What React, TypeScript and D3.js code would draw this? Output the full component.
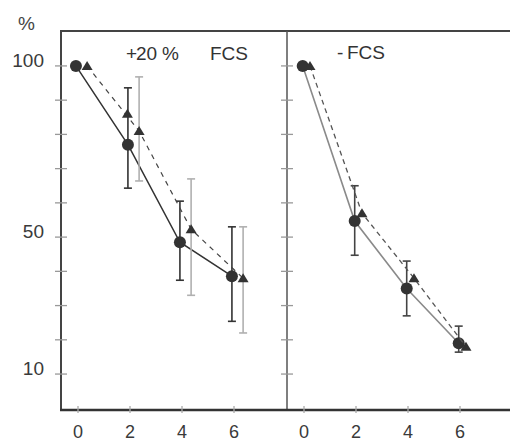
import React from 'react';
import * as d3 from 'd3';

// x categories and y ticks
const xCats = [0, 2, 4, 6];
const yTicks = [10, 20, 30, 40, 50, 60, 70, 80, 90, 100];
const yTickLabels = [10, 50, 100];

// left panel: +20 % FCS
const leftCircle = [100, 77, 48.5, 38.6];
const leftCircleLo = [NaN, 64.3, 37.4, 25.4];
const leftCircleHi = [NaN, 93.6, 60.5, 53];
const leftTriangle = [100, 81, 52.3, 38];
const leftTriangleLo = [NaN, 66.4, 33, 22];
const leftTriangleHi = [NaN, 96.8, 67, 53];
const leftTriangleB = [NaN, 86, NaN, NaN];

// right panel: -FCS
const rightCircle = [100, 54.7, 35, 19];
const rightCircleLo = [NaN, 44.7, 27, 16.4];
const rightCircleHi = [NaN, 65, 43, 24];
const rightTriangle = [100, 57, 38, 18];

const W = 510;
const H = 444;
const top = 31;
const bottom = 410;
const font = '"Liberation Sans", Arial, sans-serif';

const y = d3.scaleLinear().domain([-0.5, 110.2]).range([bottom, top]);

type Series = {
  values: number[];
  lo?: number[];
  hi?: number[];
  offset: number;
  marker: 'circle' | 'triangle';
  line?: { color: string; width: number; dash?: string };
  barColor?: string;
};

function Panel({ x0, title, series }: { x0: number; title: React.ReactNode; series: Series[] }) {
  const x = d3.scaleLinear().domain([-0.654, 7.96]).range([x0, x0 + 8.614 * 26]);
  return (
    <g>
      {/* y ticks across the panel's left axis */}
      {yTicks.map(t => (
        <line key={t} x1={x0 - 6} x2={x0 + 6} y1={y(t)} y2={y(t)} stroke="#999" strokeWidth={1.3} />
      ))}
      {/* x ticks */}
      {xCats.map(c => (
        <g key={c}>
          <line x1={x(c)} x2={x(c)} y1={bottom - 4} y2={bottom + 3} stroke="#aaa" strokeWidth={1.3} />
          <text x={x(c)} y={438} textAnchor="middle" fontFamily={font} fontSize={18} fill="#3a3a3a">{c}</text>
        </g>
      ))}
      {title}
      {series.map((s, si) => {
        const pts = s.values.map((v, i) => [x(xCats[i] + s.offset), y(v)] as [number, number]);
        const path = d3.line<number>()
          .defined(v => !isNaN(v))
          .x((_, i) => x(xCats[i] + s.offset))
          .y(v => y(v))(s.values);
        return (
          <g key={si}>
            {s.line && path && (
              <path d={path} fill="none" stroke={s.line.color} strokeWidth={s.line.width} strokeDasharray={s.line.dash} />
            )}
            {s.lo && s.hi && s.values.map((_, i) => {
              const lo = s.lo![i];
              const hi = s.hi![i];
              if (isNaN(lo) || isNaN(hi)) return null;
              const cx = x(xCats[i] + s.offset);
              return (
                <g key={i} stroke={s.barColor} strokeWidth={1.6}>
                  <line x1={cx} x2={cx} y1={y(lo)} y2={y(hi)} />
                  <line x1={cx - 4} x2={cx + 4} y1={y(lo)} y2={y(lo)} />
                  <line x1={cx - 4} x2={cx + 4} y1={y(hi)} y2={y(hi)} />
                </g>
              );
            })}
            {pts.map(([px, py], i) => {
              if (isNaN(py)) return null;
              return s.marker === 'circle'
                ? <circle key={i} cx={px} cy={py} r={6} fill="#333" />
                : <path key={i} d={`M${px},${py - 5}L${px + 5.5},${py + 4}L${px - 5.5},${py + 4}Z`} fill="#333" />;
            })}
          </g>
        );
      })}
    </g>
  );
}

export default function App() {
  const leftSeries: Series[] = [
    { values: leftCircle, lo: leftCircleLo, hi: leftCircleHi, offset: -0.08, marker: 'circle', line: { color: '#333', width: 1.5 }, barColor: '#333' },
    { values: leftTriangle, lo: leftTriangleLo, hi: leftTriangleHi, offset: 0.35, marker: 'triangle', line: { color: '#444', width: 1.2, dash: '5,5' }, barColor: '#b0b0b0' },
    { values: leftTriangleB, offset: -0.1, marker: 'triangle' },
  ];
  const rightSeries: Series[] = [
    { values: rightCircle, lo: rightCircleLo, hi: rightCircleHi, offset: -0.05, marker: 'circle', line: { color: '#8a8a8a', width: 1.6 }, barColor: '#444' },
    { values: rightTriangle, offset: 0.23, marker: 'triangle', line: { color: '#555', width: 1.3, dash: '5,4' } },
  ];
  const leftTitle = (
    <text y={60} fontFamily={font} fontSize={19} fill="#333">
      <tspan x={126}>+</tspan>
      <tspan x={136}>20</tspan>
      <tspan x={162}>%</tspan>
      <tspan x={210}>FCS</tspan>
    </text>
  );
  const rightTitle = (
    <text y={59} fontFamily={font} fontSize={19} fill="#333">
      <tspan x={337}>-</tspan>
      <tspan x={347}>FCS</tspan>
    </text>
  );
  return (
    <svg width={W} height={H} style={{ position: 'absolute', left: 0, top: 0, background: '#fff' }}>
      {/* frame */}
      <line x1={61} x2={W} y1={top} y2={top} stroke="#444" strokeWidth={2} />
      <line x1={61} x2={61} y1={top - 1} y2={bottom} stroke="#444" strokeWidth={2} />
      <line x1={287} x2={287} y1={top} y2={bottom} stroke="#555" strokeWidth={1.5} />
      <line x1={60} x2={W} y1={bottom} y2={bottom} stroke="#333" strokeWidth={2.5} />
      {/* y labels */}
      <text x={18} y={30} fontFamily={font} fontSize={19} fill="#444">%</text>
      {yTickLabels.map(t => (
        <text key={t} x={44} y={y(t) + 1} textAnchor="end" fontFamily={font} fontSize={19} fill="#3a3a3a">{t}</text>
      ))}
      <Panel x0={61} title={leftTitle} series={leftSeries} />
      <Panel x0={287} title={rightTitle} series={rightSeries} />
    </svg>
  );
}
